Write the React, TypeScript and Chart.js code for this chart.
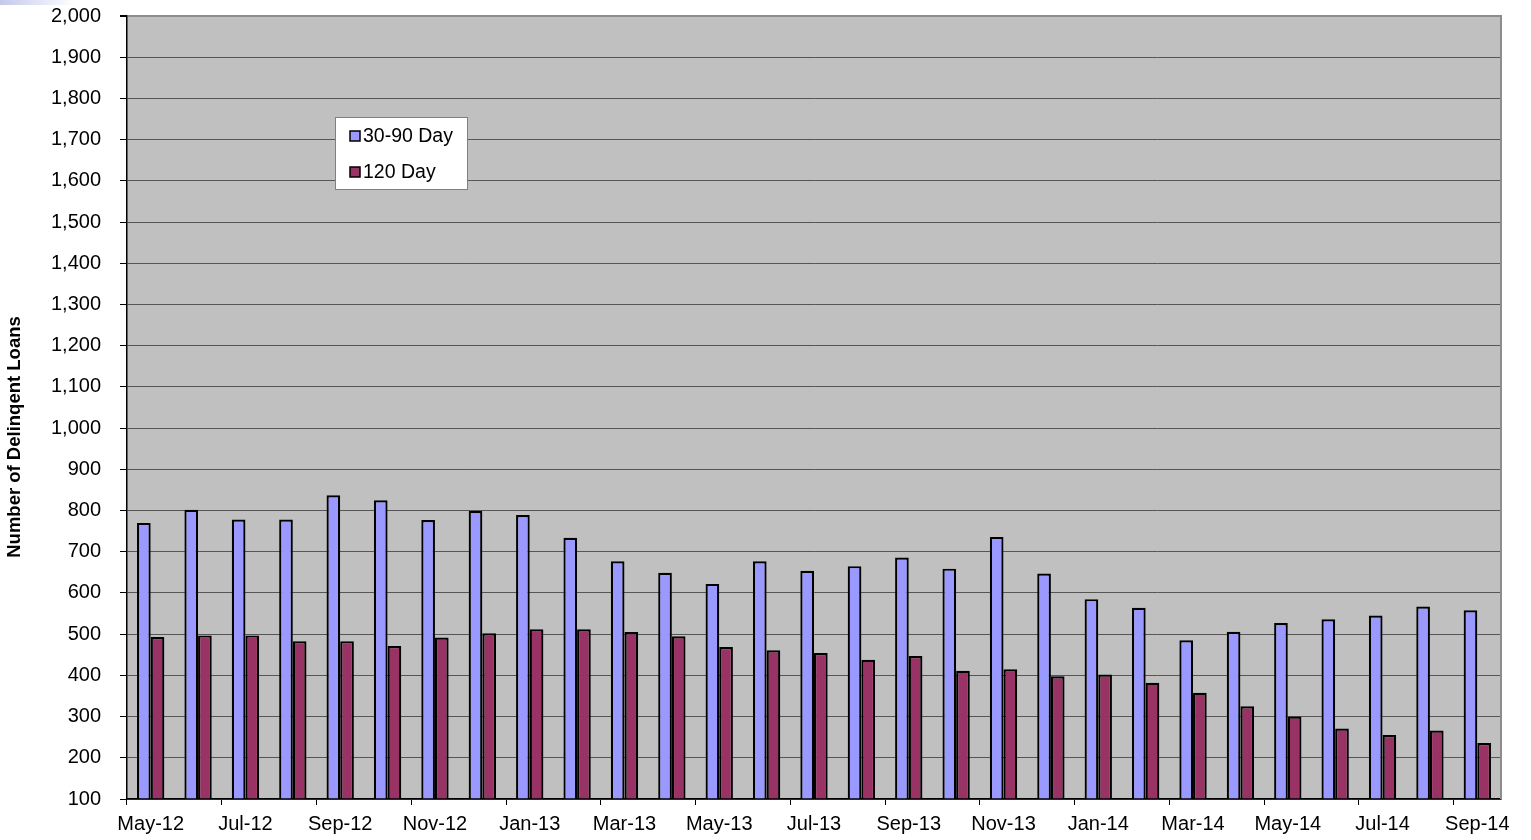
import React, { useEffect, useRef } from "react";
import { Chart, registerables } from "chart.js";

Chart.register(...registerables);

const months = [
  "May-12", "Jun-12", "Jul-12", "Aug-12", "Sep-12", "Oct-12", "Nov-12", "Dec-12",
  "Jan-13", "Feb-13", "Mar-13", "Apr-13", "May-13", "Jun-13", "Jul-13", "Aug-13",
  "Sep-13", "Oct-13", "Nov-13", "Dec-13", "Jan-14", "Feb-14", "Mar-14", "Apr-14",
  "May-14", "Jun-14", "Jul-14", "Aug-14", "Sep-14",
];

const day30to90 = [
  770, 802, 778, 778, 837, 825, 777, 799, 789, 734, 677, 649, 622, 677, 654, 665,
  686, 659, 736, 647, 585, 564, 485, 506, 527, 536, 545, 567, 558,
];

const day120 = [
  493, 497, 497, 483, 483, 471, 492, 502, 512, 512, 505, 495, 469, 461, 454, 438,
  447, 411, 415, 398, 402, 382, 358, 325, 300, 271, 255, 266, 236,
];

const seriesLabels = ["30-90 Day", "120 Day"];
const seriesColors = ["#9999FF", "#993366"];
const yMin = 100;
const yMax = 2000;
const yStep = 100;
const yAxisTitle = "Number of Delinqent Loans";

const FONT = '"Liberation Sans", Arial, sans-serif';
const SHIFT = 15; // canvas is moved up by this many pixels

export default function App() {
  const ref = useRef<HTMLCanvasElement | null>(null);

  useEffect(() => {
    document.body.style.margin = "0";
    if (!ref.current) return;

    const plotPlugin = {
      id: "plotDecor",
      beforeDraw(chart: any) {
        const { ctx, chartArea } = chart;
        const { left, top, right, bottom } = chartArea;
        ctx.save();
        ctx.fillStyle = "#C0C0C0";
        ctx.fillRect(left, top, right - left, bottom - top);
        ctx.restore();
      },
      afterDatasetsDraw(chart: any) {
        const { ctx, chartArea } = chart;
        const { top, right, bottom } = chartArea;
        ctx.save();
        ctx.strokeStyle = "#8C8C8C";
        ctx.lineWidth = 2;
        ctx.beginPath();
        ctx.moveTo(right, top - 1);
        ctx.lineTo(right, bottom);
        ctx.stroke();
        ctx.restore();
      },
      afterDraw(chart: any) {
        const { ctx } = chart;
        // y-axis title
        ctx.save();
        ctx.translate(15, 437 + SHIFT);
        ctx.rotate(-Math.PI / 2);
        ctx.font = `bold 18.5px ${FONT}`;
        ctx.fillStyle = "#000";
        ctx.textAlign = "center";
        ctx.textBaseline = "middle";
        ctx.fillText(yAxisTitle, 0, 0);
        ctx.restore();

        // legend
        const bx = 335, by = 117 + SHIFT, bw = 132, bh = 72;
        ctx.save();
        ctx.fillStyle = "#FFFFFF";
        ctx.fillRect(bx, by, bw, bh);
        ctx.strokeStyle = "#808080";
        ctx.lineWidth = 1;
        ctx.strokeRect(bx + 0.5, by + 0.5, bw, bh);
        ctx.font = `19.5px ${FONT}`;
        ctx.textBaseline = "middle";
        ctx.textAlign = "left";
        chart.data.datasets.forEach((ds: any, i: number) => {
          const cy = 136 + SHIFT + i * 36;
          ctx.fillStyle = ds.backgroundColor;
          ctx.fillRect(350, cy - 5, 10, 10);
          ctx.strokeStyle = "#000";
          ctx.lineWidth = 1.5;
          ctx.strokeRect(350, cy - 5, 10, 10);
          ctx.fillStyle = "#000";
          ctx.fillText(ds.label, 363, cy + 1);
        });
        ctx.restore();
      },
    };

    const chart = new Chart(ref.current, {
      type: "bar",
      data: {
        labels: months,
        datasets: [
          {
            label: seriesLabels[0],
            data: day30to90,
            backgroundColor: seriesColors[0],
            borderColor: "#000",
            borderWidth: 2.2,
            base: yMin,
          },
          {
            label: seriesLabels[1],
            data: day120,
            backgroundColor: seriesColors[1],
            borderColor: "#000",
            borderWidth: 2.2,
            base: yMin,
          },
        ],
      },
      options: {
        animation: false,
        responsive: true,
        maintainAspectRatio: false,
        layout: { padding: { top: 0, right: 30, bottom: 0, left: 0 } },
        datasets: {
          bar: { categoryPercentage: 0.577, barPercentage: 1 },
        },
        plugins: {
          legend: { display: false },
          title: { display: false },
          tooltip: { enabled: false },
        },
        scales: {
          x: {
            offset: true,
            afterFit: (scale: any) => {
              scale.height = 41;
            },
            grid: {
              offset: true,
              drawOnChartArea: false,
              drawTicks: true,
              tickLength: 6,
              color: (c: any) => (c.index % 2 === 0 ? "#000" : "rgba(0,0,0,0)"),
            },
            border: { color: "#000", width: 1.5 },
            ticks: {
              autoSkip: false,
              maxRotation: 0,
              minRotation: 0,
              padding: 7,
              color: "#000",
              font: { family: FONT, size: 20 },
              callback: (_v: any, i: number) => (i % 2 === 0 ? months[i] : ""),
            },
          },
          y: {
            min: yMin,
            max: yMax,
            afterFit: (scale: any) => {
              scale.width = 127;
            },
            ticks: {
              stepSize: yStep,
              padding: 19,
              color: "#000",
              font: { family: FONT, size: 20 },
              callback: (v: any) => Number(v).toLocaleString("en-US"),
            },
            grid: {
              color: (c: any) => (c.tick && c.tick.value === yMax ? "#8C8C8C" : "#555555"),
              lineWidth: (c: any) => (c.tick && c.tick.value === yMax ? 2 : 1),
              tickColor: "#000",
              tickLength: 7,
              drawTicks: true,
            },
            border: { color: "#000", width: 1.5 },
            title: { display: false },
          },
        },
      },
      plugins: [plotPlugin],
    });

    return () => chart.destroy();
  }, []);

  return (
    <div
      style={{
        position: "relative",
        width: 1531,
        height: 840,
        overflow: "hidden",
        background: "#fff",
      }}
    >
      <div
        style={{
          position: "absolute",
          left: 0,
          top: -SHIFT,
          width: 1531,
          height: 840 + SHIFT,
        }}
      >
        <canvas ref={ref} />
      </div>
      <div
        style={{
          position: "absolute",
          left: 0,
          top: 0,
          width: 75,
          height: 5,
          background: "linear-gradient(to right, #c4c8ec, #ffffff)",
        }}
      />
    </div>
  );
}
